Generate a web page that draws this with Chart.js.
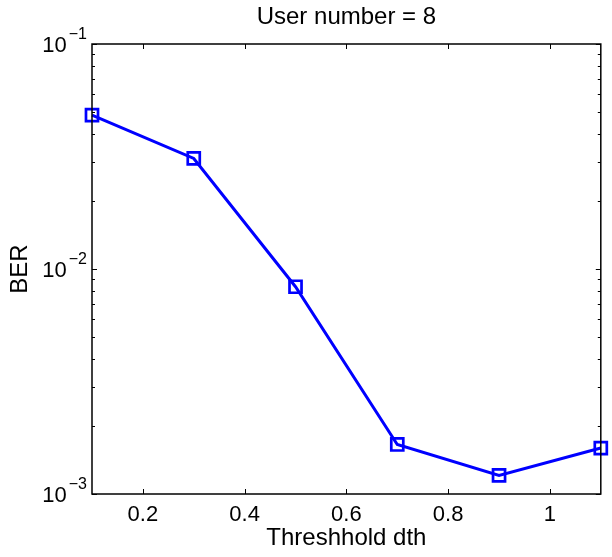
<!DOCTYPE html>
<html>
<head>
<meta charset="utf-8">
<script src="https://cdn.jsdelivr.net/npm/chart.js@4.4.0/dist/chart.umd.min.js"></script>
<style>
  html, body { margin: 0; padding: 0; background: #fff; }
  #wrap { width: 612px; height: 557px; }
</style>
</head>
<body>
<div id="wrap"><canvas id="ber_chart" width="612" height="557"></canvas></div>
<script>
var thresholds = [0.1, 0.3, 0.5, 0.7, 0.9, 1.1];
var berValues = [0.0483, 0.0310, 0.00834, 0.00166, 0.00121, 0.00160];
var xTicks = [0.2, 0.4, 0.6, 0.8, 1.0];
var xTickLabels = ["0.2", "0.4", "0.6", "0.8", "1"];
var yTicks = [0.001, 0.01, 0.1];
var yTickExps = ["\u22123", "\u22122", "\u22121"];

var FONT = '"Liberation Sans", Arial, Helvetica, sans-serif';

var points = thresholds.map(function(t, i) {
    return { x: t, y: berValues[i] };
});

// matlab style box, inward ticks, labels
var matlabAxes = {
    id: 'matlabAxes',
    afterDraw: function(chart) {
        var ctx = chart.ctx;
        var a = chart.chartArea;
        var xs = chart.scales.x;
        var ys = chart.scales.y;
        ctx.save();
        ctx.strokeStyle = '#000';
        ctx.lineWidth = 1.5;
        ctx.strokeRect(a.left, a.top, a.right - a.left, a.bottom - a.top);

        ctx.beginPath();
        xTicks.forEach(function(v) {
            var px = Math.round(xs.getPixelForValue(v)) + 0.5;
            ctx.moveTo(px, a.bottom); ctx.lineTo(px, a.bottom - 5);
            ctx.moveTo(px, a.top); ctx.lineTo(px, a.top + 5);
        });
        yTicks.forEach(function(v, i) {
            var py = Math.round(ys.getPixelForValue(v)) + 0.5;
            ctx.moveTo(a.left, py); ctx.lineTo(a.left + 5, py);
            ctx.moveTo(a.right, py); ctx.lineTo(a.right - 5, py);
            if (i < yTicks.length - 1) {
                for (var m = 2; m <= 9; m++) {
                    var pm = Math.round(ys.getPixelForValue(v * m)) + 0.5;
                    ctx.moveTo(a.left, pm); ctx.lineTo(a.left + 3, pm);
                    ctx.moveTo(a.right, pm); ctx.lineTo(a.right - 3, pm);
                }
            }
        });
        ctx.lineWidth = 1;
        ctx.stroke();

        ctx.fillStyle = '#000';
        ctx.font = '22px ' + FONT;
        ctx.textAlign = 'center';
        ctx.textBaseline = 'middle';
        xTicks.forEach(function(v, i) {
            ctx.fillText(xTickLabels[i], xs.getPixelForValue(v), a.bottom + 21);
        });

        yTicks.forEach(function(v, i) {
            var py = ys.getPixelForValue(v);
            ctx.font = '16px ' + FONT;
            ctx.textAlign = 'left';
            var expW = ctx.measureText(yTickExps[i]).width;
            var expX = a.left - 5 - expW;
            ctx.fillText(yTickExps[i], expX, py - 9);
            ctx.font = '22px ' + FONT;
            ctx.textAlign = 'right';
            ctx.fillText('10', expX - 2, py + 2);
        });

        ctx.font = '24px ' + FONT;
        ctx.textAlign = 'center';
        ctx.fillText('User number = 8', (a.left + a.right) / 2, 17);
        ctx.fillText('Threshhold dth', (a.left + a.right) / 2, 538);

        ctx.translate(20, (a.top + a.bottom) / 2);
        ctx.rotate(-Math.PI / 2);
        ctx.fillText('BER', 0, 0);
        ctx.restore();
    }
};

var chart_ber = new Chart(document.getElementById('ber_chart'), {
    type: 'line',
    data: {
        datasets: [{
            label: 'BER',
            data: points,
            borderColor: '#0000ff',
            backgroundColor: 'rgba(0,0,0,0)',
            borderWidth: 3,
            pointStyle: 'rect',
            pointRadius: 8.5,
            pointBorderWidth: 2.7,
            pointBorderColor: '#0000ff',
            pointBackgroundColor: 'rgba(0,0,0,0)',
            tension: 0,
            clip: false
        }]
    },
    plugins: [matlabAxes],
    options: {
        responsive: false,
        animation: false,
        layout: {
            padding: { left: 92, right: 1, top: 44, bottom: 63 }
        },
        scales: {
            x: {
                type: 'linear',
                display: false,
                min: 0.1,
                max: 1.1
            },
            y: {
                type: 'logarithmic',
                display: false,
                min: 0.001,
                max: 0.1
            }
        },
        plugins: {
            legend: { display: false },
            tooltip: { enabled: false },
            title: { display: false }
        }
    }
});
</script>
</body>
</html>
